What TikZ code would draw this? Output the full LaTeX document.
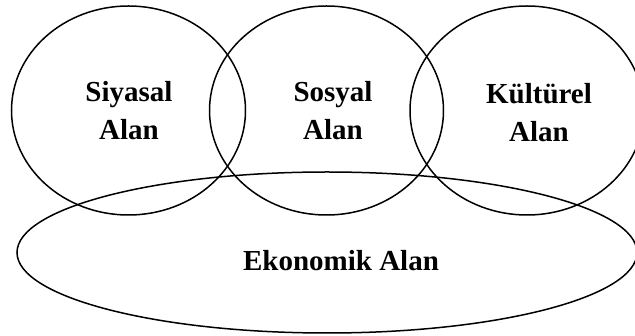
\documentclass[tikz,border=0pt]{standalone}
\usepackage{fontspec}
\setmainfont{Liberation Serif}
\usepackage{tikz}

\begin{document}
\begin{tikzpicture}[x=1pt,y=-1pt,line width=1.5pt,
	alan/.style={inner sep=0pt,align=center,font=\fontsize{29}{38}\selectfont\bfseries}]
	\clip (0,0) rectangle (635,336);
	
	%TOP CIRCLES
	\foreach \cx in {128.5,326.5,527}{
		\draw (\cx,110.5) ellipse [x radius=117, y radius=104.5];
	}
	
	%BOTTOM ELLIPSE
	\draw (327,252.5) ellipse [x radius=310, y radius=80.5];
	
	\node[alan] (siyasal) at (129,111) {Siyasal\\Alan};
	\node[alan] (sosyal) at (333,111) {Sosyal\\Alan};
	\node[alan] (kulturel) at (539,112.5) {Kültürel\\Alan};
	\node[alan] (ekonomik) at (341,261) {Ekonomik Alan};
\end{tikzpicture}
\end{document}
